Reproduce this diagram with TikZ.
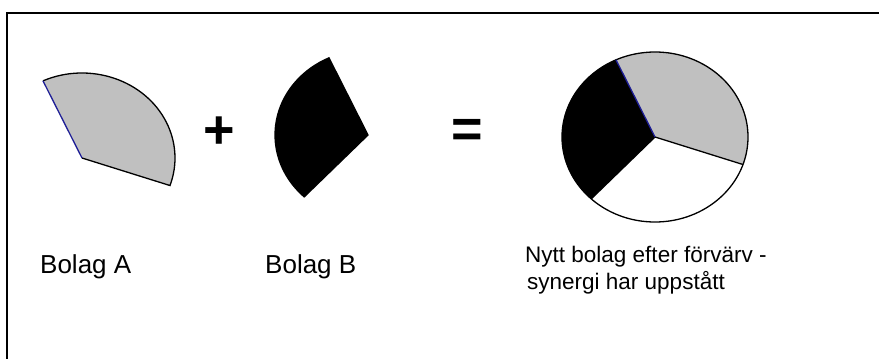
\documentclass[tikz,border=0pt]{standalone}
\usepackage{fontspec}
\setmainfont{Liberation Sans}
\begin{document}
\begin{tikzpicture}[x=1pt,y=-1pt,
  label/.style={inner sep=0pt, font=\fontsize{26}{30}\selectfont},
  caption/.style={inner sep=0pt, font=\fontsize{22.5}{27}\selectfont},
  opsign/.style={inner sep=0pt, font=\fontsize{54}{60}\selectfont\bfseries},
  rim/.style={line width=1.3pt, black},
  blueedge/.style={line width=1.3pt, color={rgb,255:red,30;green,30;blue,150}},
]
\definecolor{slicegray}{RGB}{192,192,192}
\useasboundingbox (0,0) rectangle (879,359);
\fill[white] (0,0) rectangle (879,359);
% open frame: only the top and left sides are drawn
\draw[line width=2pt] (879,13) -- (7,13) -- (7,359);

% ---- Bolag A: grey sector ----
\coordinate (A) at (82,158);
\fill[slicegray] (A) -- ++(-114.8:93 and 85)
  arc[start angle=-114.8, end angle=18.9, x radius=93, y radius=85] -- cycle;
\draw[rim] (A) ++(-114.8:93 and 85)
  arc[start angle=-114.8, end angle=18.9, x radius=93, y radius=85] -- (A);
\draw[blueedge] (A) -- ++(-114.8:93 and 85);

% ---- Bolag B: black sector ----
\coordinate (B) at (368,135);
\filldraw[rim, fill=black] (B) -- ++(133.3:93 and 85)
  arc[start angle=133.3, end angle=245.2, x radius=93, y radius=85] -- cycle;

% ---- combined pie ----
\coordinate (C) at (655,137);
\fill[slicegray] (C) -- ++(-114.8:93 and 85)
  arc[start angle=-114.8, end angle=18.9, x radius=93, y radius=85] -- cycle;
\fill[white] (C) -- ++(18.9:93 and 85)
  arc[start angle=18.9, end angle=133.3, x radius=93, y radius=85] -- cycle;
\fill[black] (C) -- ++(133.3:93 and 85)
  arc[start angle=133.3, end angle=245.2, x radius=93, y radius=85] -- cycle;
\draw[rim] (C) ellipse[x radius=93, y radius=85];
\draw[rim] (C) -- ++(18.9:93 and 85);
\draw[rim] (C) -- ++(133.3:93 and 85);
\draw[blueedge] (C) -- ++(-114.8:93 and 85);

% ---- operators ----
\node[opsign] (plus) at (219,133) {+};
\node[opsign] (eq) at (467,133) {=};

% ---- captions ----
\node[label, anchor=base west] (la) at (40,273) {Bolag A};
\node[label, anchor=base west] (lb) at (265,273) {Bolag B};
\node[caption, anchor=base west] (lc1) at (525,262) {Nytt bolag efter förvärv -};
\node[caption, anchor=base west] (lc2) at (527,289) {synergi har uppstått};
\end{tikzpicture}
\end{document}
